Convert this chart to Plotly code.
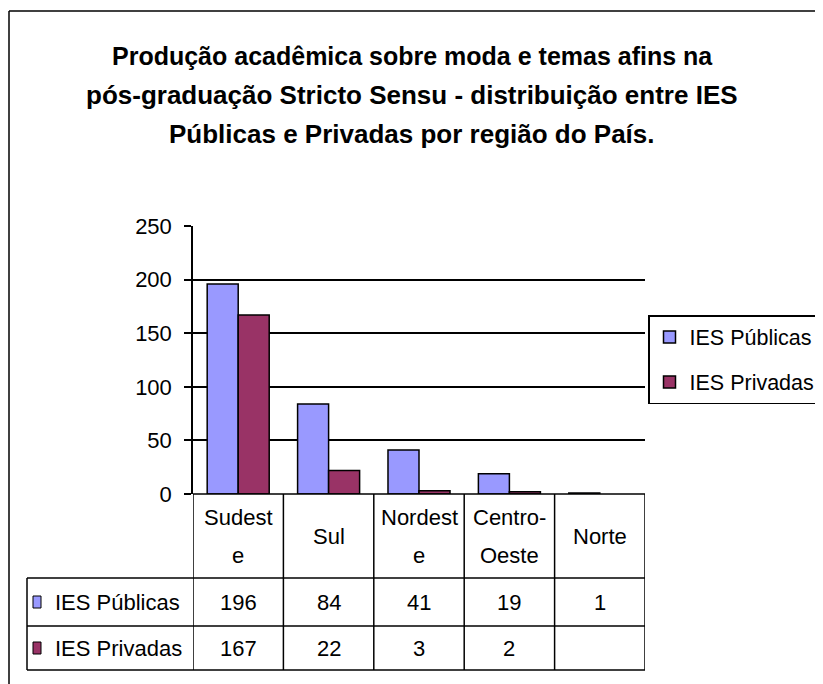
import plotly.graph_objects as go

categories = ["Sudeste", "Sul", "Nordeste", "Centro-Oeste", "Norte"]
header_lines = [["Sudest", "e"], ["Sul"], ["Nordest", "e"], ["Centro-", "Oeste"], ["Norte"]]
series_names = ["IES Públicas", "IES Privadas"]
publicas = [196, 84, 41, 19, 1]
privadas = [167, 22, 3, 2, None]
y_ticks = [0, 50, 100, 150, 200, 250]
title_lines = ["Produção acadêmica sobre moda e temas afins na",
               "pós-graduação Stricto Sensu - distribuição entre IES",
               "Públicas e Privadas por região do País."]

colors = ["#9999FF", "#993366"]
FONT = "Liberation Sans, Arial, sans-serif"

# page has an 8px body margin: figure is sized so it fills the 823x684 window
OFF = 8
W, H = 823 - OFF, 684 - OFF
# plot-area edges in window pixels
PL, PR, PT, PB = 193, 645, 226, 494


def px(x):
    return (x - PL) / (PR - PL)


def py(y):
    return (PB - y) / (PB - PT)


fig = go.Figure()
for name, vals, col in zip(series_names, [publicas, privadas], colors):
    fig.add_trace(go.Bar(
        x=categories, y=vals, name=name, legendgroup=name,
        marker=dict(color=col, line=dict(color="black", width=1.5)),
    ))

shapes = []
ann = []
line = dict(color="black", width=1.5)

# outer chart border (left & top)
shapes.append(dict(type="line", xref="paper", yref="paper", x0=px(9), x1=px(840), y0=py(11), y1=py(11), line=line))
shapes.append(dict(type="line", xref="paper", yref="paper", x0=px(9), x1=px(9), y0=py(11), y1=py(700), line=line))

# title lines
for t, yc, fs in zip(title_lines, [56, 95, 134], [25, 26, 26]):
    ann.append(dict(x=px(412), xref="paper", y=py(yc), yref="paper", text="<b>" + t + "</b>",
                    showarrow=False, xanchor="center", yanchor="middle",
                    font=dict(family=FONT, size=fs, color="black")))

# data table lines
rows_y = [494, 578, 626, 670]
shapes.append(dict(type="line", xref="paper", yref="paper", x0=px(PL), x1=px(PR), y0=py(494), y1=py(494), line=line))
for yy in rows_y[1:]:
    shapes.append(dict(type="line", xref="paper", yref="paper", x0=px(27), x1=px(PR), y0=py(yy), y1=py(yy), line=line))
shapes.append(dict(type="line", xref="paper", yref="paper", x0=px(27), x1=px(27), y0=py(578), y1=py(670), line=line))
for i in range(len(categories) + 1):
    shapes.append(dict(type="line", xref="x", yref="paper", x0=i - 0.5, x1=i - 0.5, y0=py(494), y1=py(670), line=line))

tfont = dict(family=FONT, size=22, color="black")
for cat, lines in zip(categories, header_lines):
    ys = [536] if len(lines) == 1 else [517, 555]
    for txt, yc in zip(lines, ys):
        ann.append(dict(x=cat, xref="x", y=py(yc), yref="paper", text=txt, showarrow=False,
                        font=tfont, xanchor="center", yanchor="middle"))
row_centers = [602, 648]
for name, vals, col, yc in zip(series_names, [publicas, privadas], colors, row_centers):
    shapes.append(dict(type="rect", xref="paper", yref="paper", x0=px(33), x1=px(41),
                       y0=py(yc - 6), y1=py(yc + 6), fillcolor=col, line=dict(color="black", width=1)))
    ann.append(dict(x=px(53), xref="paper", y=py(yc), yref="paper", text=name, showarrow=False,
                    font=tfont, xanchor="left", yanchor="middle"))
    for cat, v in zip(categories, vals):
        if v is None:
            continue
        ann.append(dict(x=cat, xref="x", y=py(yc), yref="paper", text=str(v), showarrow=False,
                        font=tfont, xanchor="center", yanchor="middle"))

fig.update_layout(
    width=W, height=H,
    margin=dict(l=PL - OFF, r=W - (PR - OFF), t=PT - OFF, b=H - (PB - OFF), autoexpand=False),
    paper_bgcolor="white", plot_bgcolor="white",
    barmode="group", bargap=0.314, bargroupgap=0,
    font=dict(family=FONT, color="black"),
    xaxis=dict(range=[-0.5, 4.5], showticklabels=False, ticks="", showgrid=False,
               showline=False, zeroline=False, fixedrange=True),
    yaxis=dict(range=[0, 250], tickvals=y_ticks, ticks="outside", ticklen=7, tickwidth=1.5,
               tickcolor="black", showline=True, linecolor="black", linewidth=1.5,
               showgrid=True, gridcolor="black", gridwidth=1.5, zeroline=False,
               tickfont=dict(family=FONT, size=22, color="black"), ticklabelstandoff=8),
    legend=dict(x=px(648), y=py(315), xref="paper", yref="paper", xanchor="left", yanchor="top",
                bordercolor="black", borderwidth=1.5, bgcolor="white",
                font=dict(family=FONT, size=21.5, color="black"), tracegroupgap=14,
                traceorder="grouped"),
    shapes=shapes, annotations=ann,
)
fig.write_html("out.html")
